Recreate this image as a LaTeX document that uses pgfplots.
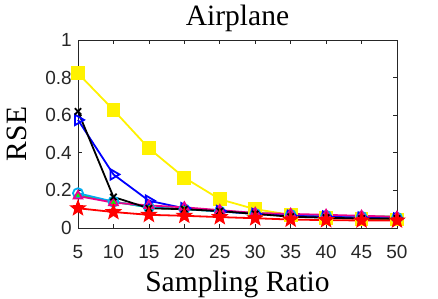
\documentclass[border=0pt]{standalone}
\usepackage{fontspec}
\setmainfont{Liberation Serif}
\newfontfamily\ticksf{Liberation Sans}
\usepackage{pgfplots}
\pgfplotsset{compat=1.18}
\definecolor{axgray}{rgb}{0.15,0.15,0.15}
\pgfdeclareplotmark{fstar}{%
  \pgfpathmoveto{\pgfpointpolar{90}{\pgfplotmarksize}}%
  \pgfpathlineto{\pgfpointpolar{126}{0.42\pgfplotmarksize}}%
  \pgfpathlineto{\pgfpointpolar{162}{\pgfplotmarksize}}%
  \pgfpathlineto{\pgfpointpolar{198}{0.42\pgfplotmarksize}}%
  \pgfpathlineto{\pgfpointpolar{234}{\pgfplotmarksize}}%
  \pgfpathlineto{\pgfpointpolar{270}{0.42\pgfplotmarksize}}%
  \pgfpathlineto{\pgfpointpolar{306}{\pgfplotmarksize}}%
  \pgfpathlineto{\pgfpointpolar{342}{0.42\pgfplotmarksize}}%
  \pgfpathlineto{\pgfpointpolar{18}{\pgfplotmarksize}}%
  \pgfpathlineto{\pgfpointpolar{54}{0.42\pgfplotmarksize}}%
  \pgfpathclose
  \pgfusepathqfillstroke
}
\begin{document}
\begin{tikzpicture}
\begin{axis}[
  scale only axis,
  width=319pt, height=188pt,
  xmin=5, xmax=50, ymin=0, ymax=1,
  xtick={5,10,...,50},
  ytick={0,0.2,0.4,0.6,0.8,1},
  yticklabels={0,0.2,0.4,0.6,0.8,1},
  tick align=inside,
  major tick length=4pt,
  axis line style={axgray, line width=0.7pt},
  tick style={axgray, line width=0.7pt},
  /pgf/number format/assume math mode=true,
  ticklabel style={font=\ticksf\fontsize{19}{19}\selectfont, text=axgray, inner sep=0pt},
  xticklabel style={yshift=-17pt},
  yticklabel style={xshift=-6pt},
  title={Airplane},
  title style={font=\fontsize{29.5}{29.5}\selectfont, at={(axis description cs:0.5,1.0426)}, anchor=base, inner sep=0pt},
  xlabel={Sampling Ratio},
  ylabel={RSE},
  label style={font=\fontsize{29.5}{29.5}\selectfont, inner sep=0pt},
  xlabel style={at={(axis description cs:0.5,-0.339)}, anchor=base},
  ylabel style={at={(axis description cs:-0.160,0.5)}, anchor=base},
  every axis plot/.append style={line width=1.8pt},
  clip=false,
]
\addplot[color=yellow, mark=square*, mark size=6pt] coordinates {
(5,0.823)(10,0.628)(15,0.424)(20,0.268)(25,0.153)(30,0.10)(35,0.07)(40,0.055)(45,0.05)(50,0.045)};
\addplot[color=green, mark=triangle*, mark size=3pt] coordinates {
(5,0.175)(10,0.14)(15,0.11)(20,0.10)(25,0.09)(30,0.08)(35,0.07)(40,0.065)(45,0.062)(50,0.06)};
\addplot[color=cyan, mark=o, mark size=5pt, mark options={line width=1.8pt}] coordinates {
(5,0.185)(10,0.14)(15,0.11)(20,0.10)(25,0.088)(30,0.075)(35,0.07)(40,0.065)(45,0.06)(50,0.055)};
\addplot[color=blue, mark=triangle, mark size=6pt, mark options={rotate=-90, line width=1.8pt}] coordinates {
(5,0.575)(10,0.285)(15,0.145)(20,0.105)(25,0.09)(30,0.075)(35,0.065)(40,0.06)(45,0.055)(50,0.05)};
\addplot[color=magenta, mark=triangle, mark size=5pt, mark options={line width=1.8pt}] coordinates {
(5,0.17)(10,0.135)(15,0.12)(20,0.11)(25,0.095)(30,0.08)(35,0.075)(40,0.07)(45,0.065)(50,0.06)};
\addplot[color=black, mark=x, mark size=4.5pt] coordinates {
(5,0.62)(10,0.165)(15,0.105)(20,0.10)(25,0.09)(30,0.075)(35,0.06)(40,0.055)(45,0.05)(50,0.05)};
\addplot[color=red, mark=fstar, mark size=7.5pt, mark options={line width=1.2pt}] coordinates {
(5,0.105)(10,0.085)(15,0.07)(20,0.065)(25,0.058)(30,0.052)(35,0.045)(40,0.042)(45,0.04)(50,0.04)};
\end{axis}
\path (current axis.south west) ++(-78pt,-69pt) rectangle ++(438pt,297pt);
\end{tikzpicture}
\end{document}
